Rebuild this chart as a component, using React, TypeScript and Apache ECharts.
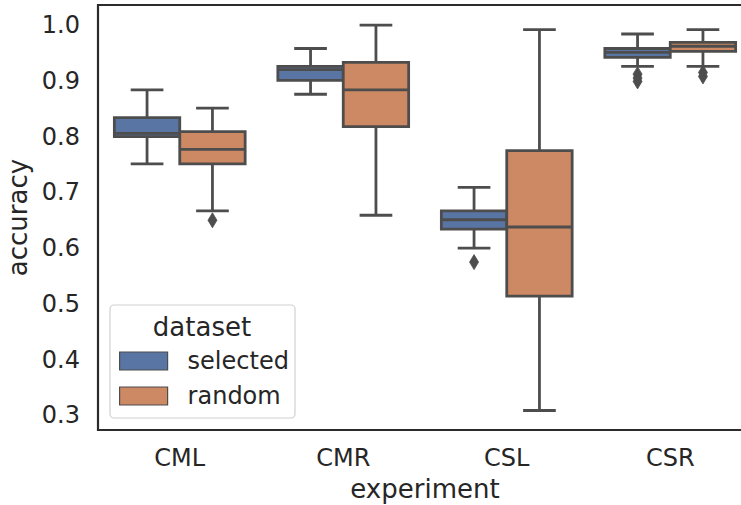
import React, { useEffect, useRef } from "react";
import * as echarts from "echarts";

// Experiment groups on the x axis
const experiments = ["CML", "CMR", "CSL", "CSR"];
const yTicks = [0.3, 0.4, 0.5, 0.6, 0.7, 0.8, 0.9, 1.0];

// Box statistics per experiment: [lowWhisker, q1, median, q3, highWhisker]
const selectedStats = [
  [0.751, 0.8, 0.806, 0.834, 0.884],
  [0.876, 0.901, 0.92, 0.926, 0.958],
  [0.6, 0.634, 0.651, 0.667, 0.709],
  [0.926, 0.942, 0.951, 0.958, 0.984],
];
const randomStats = [
  [0.667, 0.751, 0.777, 0.809, 0.851],
  [0.659, 0.818, 0.884, 0.933, 1.0],
  [0.309, 0.514, 0.638, 0.775, 0.992],
  [0.926, 0.953, 0.962, 0.969, 0.992],
];

// Flier points: [experimentIndex, accuracy]
const selectedOutliers = [
  [2, 0.575],
  [3, 0.912],
  [3, 0.905],
  [3, 0.899],
];
const randomOutliers = [
  [0, 0.65],
  [3, 0.915],
  [3, 0.908],
];

const BLUE = "#5975a4";
const ORANGE = "#cc8963";
const GRAY = "#4d4d4d";
const TEXT = "#262626";
const FONT = "DejaVu Sans";

const boxRenderer = (shift: number, fill: string) => (params: any, api: any) => {
  const ci = api.value(0);
  const bw = api.size([1, 0])[0];
  const cx = api.coord([ci, 0])[0] + shift * bw;
  const half = bw * 0.2;
  const capHalf = half / 2;
  const y = (k: number) => api.coord([ci, api.value(k)])[1];
  const yLow = y(1);
  const yQ1 = y(2);
  const yMed = y(3);
  const yQ3 = y(4);
  const yHigh = y(5);
  const lineStyle = { stroke: GRAY, lineWidth: 2.8 };
  return {
    type: "group",
    children: [
      { type: "line", shape: { x1: cx, y1: yQ1, x2: cx, y2: yLow }, style: lineStyle },
      { type: "line", shape: { x1: cx, y1: yQ3, x2: cx, y2: yHigh }, style: lineStyle },
      { type: "line", shape: { x1: cx - capHalf, y1: yLow, x2: cx + capHalf, y2: yLow }, style: lineStyle },
      { type: "line", shape: { x1: cx - capHalf, y1: yHigh, x2: cx + capHalf, y2: yHigh }, style: lineStyle },
      {
        type: "rect",
        shape: { x: cx - half, y: yQ3, width: half * 2, height: yQ1 - yQ3 },
        style: { fill, stroke: GRAY, lineWidth: 2.8 },
      },
      { type: "line", shape: { x1: cx - half, y1: yMed, x2: cx + half, y2: yMed }, style: lineStyle },
    ],
  };
};

const flierRenderer = (shift: number) => (params: any, api: any) => {
  const ci = api.value(0);
  const bw = api.size([1, 0])[0];
  const p = api.coord([ci, api.value(1)]);
  const cx = p[0] + shift * bw;
  const cy = p[1];
  return {
    type: "polygon",
    shape: {
      points: [
        [cx, cy - 7.5],
        [cx + 4.5, cy],
        [cx, cy + 7.5],
        [cx - 4.5, cy],
      ],
    },
    style: { fill: GRAY, stroke: GRAY, lineWidth: 0.8 },
  };
};

export default function App() {
  const ref = useRef<HTMLDivElement>(null);

  useEffect(() => {
    if (!ref.current) return;
    const chart = echarts.init(ref.current, null, { renderer: "svg" });

    const boxData = (stats: number[][]) => stats.map((s, i) => [i, ...s]);

    chart.setOption({
      animation: false,
      backgroundColor: "#ffffff",
      textStyle: { fontFamily: FONT, color: TEXT },
      grid: {
        left: 98,
        top: 5,
        width: 654,
        bottom: 75,
        containLabel: false,
        outerBoundsMode: "none",
        show: true,
        borderColor: "#2b2b2b",
        borderWidth: 2.2,
        backgroundColor: "transparent",
      },
      xAxis: {
        type: "category",
        data: experiments,
        name: "experiment",
        nameLocation: "middle",
        nameGap: 46,
        nameTextStyle: { fontSize: 26, color: TEXT, fontFamily: FONT },
        axisLine: { show: false },
        axisTick: { show: false },
        axisLabel: { fontSize: 24, color: TEXT, fontFamily: FONT, margin: 16 },
        splitLine: { show: false },
      },
      yAxis: {
        type: "value",
        min: 0.274,
        max: 1.036,
        name: "accuracy",
        nameLocation: "middle",
        nameGap: 64,
        nameTextStyle: { fontSize: 26, color: TEXT, fontFamily: FONT },
        axisLine: { show: false },
        axisTick: { show: false },
        splitLine: { show: false },
        axisLabel: {
          fontSize: 24,
          color: TEXT,
          fontFamily: FONT,
          margin: 18,
          showMinLabel: true,
          showMaxLabel: true,
          customValues: yTicks,
          formatter: (v: number) => v.toFixed(1),
        },
      },
      legend: {
        orient: "vertical",
        left: 119,
        top: 349,
        itemWidth: 48,
        itemHeight: 18,
        itemGap: 11,
        padding: 0,
        textStyle: { fontSize: 24, color: TEXT, fontFamily: FONT, padding: [0, 0, 0, 15] },
        data: [
          { name: "selected", icon: "rect", itemStyle: { color: BLUE, borderColor: GRAY, borderWidth: 1.2 } },
          { name: "random", icon: "rect", itemStyle: { color: ORANGE, borderColor: GRAY, borderWidth: 1.2 } },
        ],
      },
      graphic: [
        {
          type: "rect",
          z: 3,
          shape: { x: 110, y: 305, width: 185, height: 113, r: 4 },
          style: { fill: "rgba(255,255,255,0.8)", stroke: "#d0d0d0", lineWidth: 1.2 },
        },
        {
          type: "text",
          z: 4,
          x: 202,
          y: 327,
          style: {
            text: "dataset",
            fontSize: 26,
            fontFamily: FONT,
            fill: TEXT,
            align: "center",
            verticalAlign: "middle",
          },
        },
      ],
      series: [
        {
          name: "selected",
          type: "custom",
          itemStyle: { color: BLUE },
          renderItem: boxRenderer(-0.2, BLUE),
          encode: { x: 0, y: [1, 2, 3, 4, 5] },
          data: boxData(selectedStats),
        },
        {
          name: "random",
          type: "custom",
          itemStyle: { color: ORANGE },
          renderItem: boxRenderer(0.2, ORANGE),
          encode: { x: 0, y: [1, 2, 3, 4, 5] },
          data: boxData(randomStats),
        },
        {
          name: "selected",
          type: "custom",
          itemStyle: { color: BLUE },
          renderItem: flierRenderer(-0.2),
          encode: { x: 0, y: 1 },
          data: selectedOutliers,
        },
        {
          name: "random",
          type: "custom",
          itemStyle: { color: ORANGE },
          renderItem: flierRenderer(0.2),
          encode: { x: 0, y: 1 },
          data: randomOutliers,
        },
      ],
    });

    return () => chart.dispose();
  }, []);

  return <div ref={ref} style={{ width: 741, height: 505, position: "absolute", left: 0, top: 0 }} />;
}
